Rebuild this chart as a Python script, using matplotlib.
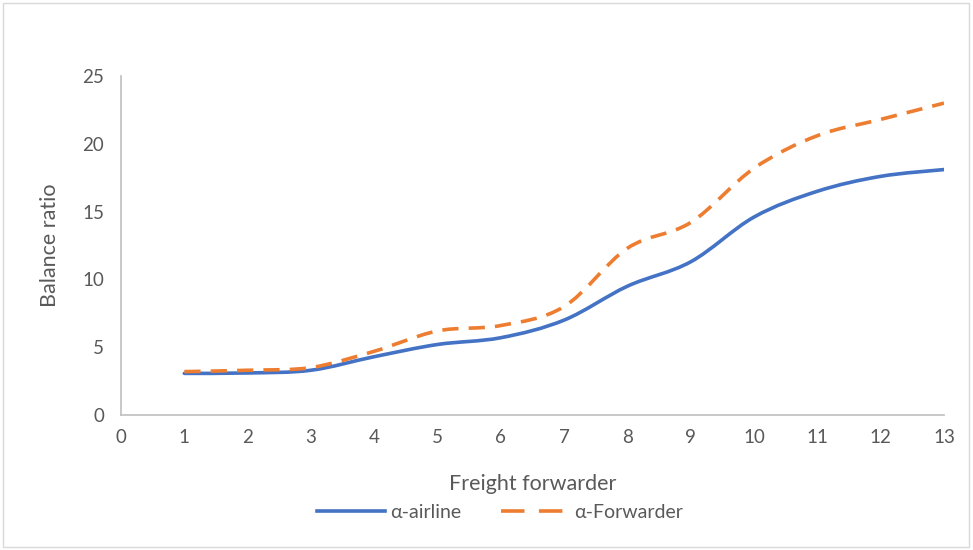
import numpy as np
import matplotlib
matplotlib.use("Agg")
from matplotlib import pyplot as plt
from matplotlib.path import Path
from matplotlib.patches import PathPatch, Rectangle
from matplotlib.lines import Line2D

plt.rcParams['font.family'] = ['Lato', 'DejaVu Sans']

forwarder = [1, 2, 3, 4, 5, 6, 7, 8, 9, 10, 11, 12, 13]
alpha_airline = [3.07, 3.1, 3.3, 4.3, 5.2, 5.7, 7.0, 9.5, 11.3, 14.6, 16.5, 17.6, 18.1]
alpha_forwarder = [3.2, 3.3, 3.5, 4.7, 6.2, 6.6, 8.0, 12.3, 14.2, 18.2, 20.6, 21.8, 23.0]

blue = '#4472C4'
orange = '#ED7D31'
grey_text = '#595959'


def smooth_path(x, y):
    # Excel-style smoothed line: cubic Bezier segments through every point
    pts = np.column_stack([x, y]).astype(float)
    n = len(pts)
    verts = [pts[0]]
    codes = [Path.MOVETO]
    for i in range(n - 1):
        p0 = pts[max(i - 1, 0)]
        p1 = pts[i]
        p2 = pts[i + 1]
        p3 = pts[min(i + 2, n - 1)]
        c1 = p1 + (p2 - p0) / 6
        c2 = p2 - (p3 - p1) / 6
        verts += [c1, c2, p2]
        codes += [Path.CURVE4] * 3
    return Path(verts, codes)


fig = plt.figure(figsize=(9.73, 5.5), dpi=100)
ax = fig.add_axes([121 / 973, (550 - 415) / 550, (944 - 121) / 973, (415 - 76) / 550])

ax.add_patch(PathPatch(smooth_path(forwarder, alpha_airline), fill=False,
                       edgecolor=blue, lw=2.6, capstyle='round'))
ax.add_patch(PathPatch(smooth_path(forwarder, alpha_forwarder), fill=False,
                       edgecolor=orange, lw=2.6, linestyle=(0, (4.5, 2.8))))

ax.set_xlim(0, 13)
ax.set_ylim(0, 25)
ax.set_xticks(range(0, 14))
ax.set_yticks(range(0, 26, 5))
ax.tick_params(length=0, labelsize=13.5, colors=grey_text)
ax.tick_params(axis='x', pad=10)
ax.tick_params(axis='y', pad=12)
for s in ['top', 'right']:
    ax.spines[s].set_visible(False)
for s in ['left', 'bottom']:
    ax.spines[s].set_color('#BFBFBF')
    ax.spines[s].set_linewidth(1.2)

ax.set_xlabel('Freight forwarder', fontsize=15.5, color=grey_text, labelpad=20)
ax.set_ylabel('Balance ratio', fontsize=15.5, color=grey_text, labelpad=16)

handles = [Line2D([], [], color=blue, lw=2.6),
           Line2D([], [], color=orange, lw=2.6, linestyle=(0, (6.5, 4)))]
fig.legend(handles, ['α-airline', 'α-Forwarder'], loc='center',
           bbox_to_anchor=(500 / 973, 1 - 512 / 550), ncol=2, frameon=False,
           fontsize=14, labelcolor=grey_text, handlelength=3.5,
           handletextpad=0.3, columnspacing=2.0)

fig.add_artist(Rectangle((3 / 973, 3 / 550), 966 / 973, 544 / 550, fill=False,
                         edgecolor='#D9D9D9', lw=1, transform=fig.transFigure))

fig.savefig('out.png', dpi=100)
